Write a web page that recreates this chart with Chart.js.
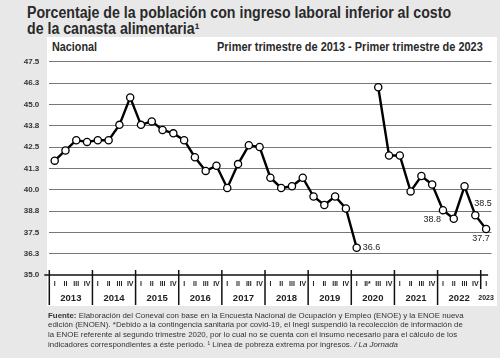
<!DOCTYPE html>
<html lang="es">
<head>
<meta charset="utf-8">
<script src="https://cdn.jsdelivr.net/npm/chart.js@4.4.0/dist/chart.umd.min.js"></script>
<style>
    html, body { margin: 0; padding: 0; background: #e8e8e8; }
    #wrap {
        position: relative; width: 500px; height: 358px; overflow: hidden;
        font-family: "Liberation Sans", Arial, sans-serif;
        color: #2a2a2a;
    }
    #panel { position: absolute; left: 47px; top: 37px; width: 450px; height: 269px; background: #fff; }
    canvas { position: absolute; left: 0; top: 0; }
    .titulo {
        position: absolute; left: 27px; top: 5px; font-weight: bold; font-size: 16px; line-height: 16px;
        white-space: nowrap; transform: scaleX(0.885); transform-origin: left top;
    }
    .nacional {
        position: absolute; left: 52px; top: 40px; font-weight: bold; font-size: 12px; white-space: nowrap;
        transform: scaleX(0.9); transform-origin: left top;
    }
    .periodo {
        position: absolute; right: 17px; top: 40px; font-weight: bold; font-size: 12px; white-space: nowrap;
        transform: scaleX(0.914); transform-origin: right top;
    }
    .fuente {
        position: absolute; left: 48px; top: 310.5px; font-size: 8px; line-height: 9.7px; white-space: nowrap; color: #333;
        transform: scaleX(0.985); transform-origin: left top;
    }
</style>
</head>
<body>
<div id="wrap">
    <div id="panel"></div>
    <div class="titulo">Porcentaje de la población con ingreso laboral inferior al costo<br>de la canasta alimentaria¹</div>
    <div class="nacional">Nacional</div>
    <div class="periodo">Primer trimestre de 2013 - Primer trimestre de 2023</div>
    <canvas id="grafica" width="500" height="358"></canvas>
    <div class="fuente"><b>Fuente:</b> Elaboración del Coneval con base en la Encuesta Nacional de Ocupación y Empleo (ENOE) y la ENOE nueva<br>edición (ENOEN). *Debido a la contingencia sanitaria por covid-19, el Inegi suspendió la recolección de información de<br>la ENOE referente al segundo trimestre 2020, por lo cual no se cuenta con el insumo necesario para el cálculo de los<br>indicadores correspondientes a éste periodo. ¹ Línea de pobreza extrema por ingresos. <i>/ La Jornada</i></div>
</div>
<script>
// Datos
var anios = ["2013", "2014", "2015", "2016", "2017", "2018", "2019", "2020", "2021", "2022", "2023"];

var trimestres = [
    "I", "II", "III", "IV",  "I", "II", "III", "IV",  "I", "II", "III", "IV",
    "I", "II", "III", "IV",  "I", "II", "III", "IV",  "I", "II", "III", "IV",
    "I", "II", "III", "IV",  "I", "II*", "III", "IV", "I", "II", "III", "IV",
    "I", "II", "III", "IV",  "I"
];

var porcentajes = [
    41.7, 42.3, 42.9, 42.8,  42.9, 42.9, 43.8, 45.4,  43.8, 44.0, 43.5, 43.3,
    42.9, 41.9, 41.1, 41.4,  40.1, 41.5, 42.6, 42.5,  40.7, 40.1, 40.2, 40.7,
    39.6, 39.1, 39.6, 38.9,  36.6, null, 46.0, 42.0,  42.0, 39.9, 40.8, 40.3,
    38.8, 38.3, 40.2, 38.5,  37.7
];

var ejeY = [35.0, 36.25, 37.5, 38.75, 40.0, 41.25, 42.5, 43.75, 45.0, 46.25, 47.5];

// índices de los puntos que llevan su valor escrito
var puntosConEtiqueta = [28, 36, 39, 40];

var FUENTE = '"Liberation Sans", Arial, sans-serif';

// Eje de trimestres y años dibujado a mano sobre la escala x
var ejeTrimestres = {
    id: "ejeTrimestres",
    afterDraw: function (chart) {
        var ctx = chart.ctx;
        var x = chart.scales.x;
        var y = chart.scales.y;
        var y0 = y.getPixelForValue(ejeY[0]);
        var paso = x.getPixelForValue(1) - x.getPixelForValue(0);
        var ultimo = trimestres.length - 1;

        ctx.save();
        ctx.strokeStyle = "#111";
        ctx.lineWidth = 1.3;
        ctx.beginPath();
        ctx.moveTo(chart.chartArea.left - 5, y0);
        ctx.lineTo(x.getPixelForValue(ultimo) + 2, y0);
        ctx.stroke();

        ctx.fillStyle = "#222";
        ctx.textAlign = "center";
        ctx.textBaseline = "middle";

        anios.forEach(function (anio, i) {
            var inicio = x.getPixelForValue(i * 4) - paso / 2;
            var esUltimo = i === anios.length - 1;
            ctx.lineWidth = 1.5;
            ctx.beginPath();
            ctx.moveTo(inicio, y0 - 5);
            ctx.lineTo(inicio, esUltimo ? y0 + 14 : y0 + 30);
            ctx.stroke();

            var centro = esUltimo ? x.getPixelForValue(i * 4) : inicio + paso * 2;
            ctx.font = esUltimo ? "bold 7px " + FUENTE : "bold 9.5px " + FUENTE;
            ctx.fillText(anio, centro, y0 + 23);
        });

        ctx.font = "bold 7px " + FUENTE;
        trimestres.forEach(function (t, i) {
            ctx.fillText(t, x.getPixelForValue(i), y0 + 9);
        });
        ctx.restore();
    },
};

var etiquetasValor = {
    id: "etiquetasValor",
    afterDatasetsDraw: function (chart) {
        var ctx = chart.ctx;
        var meta = chart.getDatasetMeta(0);
        var ajustes = {
            28: { dx: 6, dy: 0, align: "left" },
            36: { dx: -2, dy: 9, align: "right" },
            39: { dx: -1, dy: -12, align: "left" },
            40: { dx: -5, dy: 10, align: "center" },
        };
        ctx.save();
        ctx.font = "9px " + FUENTE;
        ctx.fillStyle = "#222";
        ctx.textBaseline = "middle";
        puntosConEtiqueta.forEach(function (i) {
            var p = meta.data[i];
            var a = ajustes[i];
            ctx.textAlign = a.align;
            ctx.fillText(porcentajes[i].toFixed(1), p.x + a.dx, p.y + a.dy);
        });
        ctx.restore();
    },
};

Chart.defaults.font.family = FUENTE;

new Chart(document.getElementById("grafica"), {
    type: "line",
    data: {
        labels: trimestres,
        datasets: [
            {
                data: porcentajes,
                borderColor: "#000",
                borderWidth: 2.4,
                pointRadius: 3.6,
                pointBorderWidth: 1.3,
                pointBackgroundColor: "#fff",
                pointBorderColor: "#000",
                spanGaps: false,
                tension: 0,
            },
        ],
    },
    options: {
        responsive: false,
        animation: false,
        layout: { padding: { left: 0, right: 8.5, top: 61.7, bottom: 83 } },
        plugins: {
            legend: { display: false },
            tooltip: { enabled: false },
        },
        scales: {
            x: {
                display: false,
                offset: true,
            },
            y: {
                min: ejeY[0],
                max: ejeY[ejeY.length - 1],
                afterBuildTicks: function (scale) {
                    scale.ticks = ejeY.map(function (v) {
                        return { value: v };
                    });
                },
                afterFit: function (scale) {
                    scale.width = 49.3;
                },
                border: { display: false },
                grid: {
                    drawTicks: false,
                    color: function (c) {
                        return c.tick && c.tick.value === ejeY[0] ? "rgba(0,0,0,0)" : "#777";
                    },
                    lineWidth: 1,
                    borderDash: [1, 2],
                },
                ticks: {
                    padding: 10,
                    color: "#333",
                    font: { size: 8, weight: "bold" },
                    callback: function (v) {
                        return Number(v).toFixed(1);
                    },
                },
            },
        },
    },
    plugins: [ejeTrimestres, etiquetasValor],
});
</script>
</body>
</html>
